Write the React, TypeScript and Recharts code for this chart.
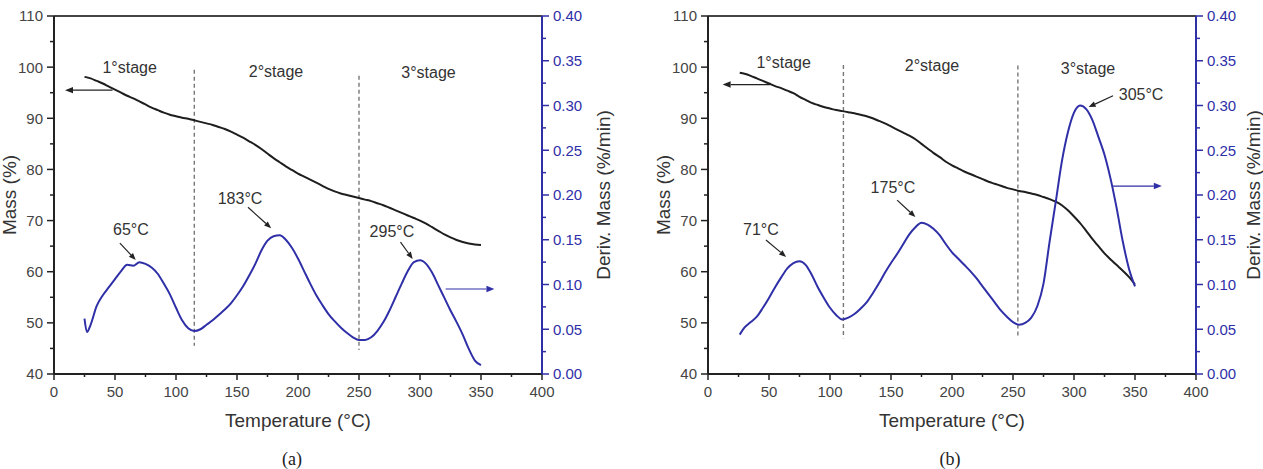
import React from 'react';
import { LineChart, Line, XAxis, YAxis, ReferenceLine, ReferenceDot } from 'recharts';

// panel (a): sampled temperatures (°C), mass (%) and derivative (%/min)
const tempA = [25, 27, 30, 35, 40, 45, 50, 55, 60, 65, 70, 75, 80, 85, 90, 95, 100, 105, 110, 115, 120, 125, 130, 135, 140, 145, 150, 155, 160, 165, 170, 175, 180, 185, 190, 195, 200, 205, 210, 215, 220, 225, 230, 235, 240, 245, 250, 255, 260, 265, 270, 275, 280, 285, 290, 295, 300, 305, 310, 315, 320, 325, 330, 335, 340, 345, 350];
const massA = [98.1, 98.0, 97.8, 97.3, 96.8, 96.2, 95.6, 95.0, 94.4, 93.9, 93.3, 92.7, 92.1, 91.6, 91.1, 90.7, 90.4, 90.1, 89.9, 89.6, 89.3, 89.0, 88.7, 88.3, 87.9, 87.4, 86.8, 86.2, 85.5, 84.8, 84.0, 83.1, 82.2, 81.4, 80.6, 79.9, 79.2, 78.6, 78.0, 77.4, 76.8, 76.2, 75.7, 75.3, 75.0, 74.7, 74.4, 74.1, 73.8, 73.4, 73.0, 72.5, 72.0, 71.5, 71.0, 70.5, 70.0, 69.4, 68.7, 68.0, 67.3, 66.7, 66.2, 65.8, 65.5, 65.3, 65.2];
const derivA = [0.062, 0.047, 0.055, 0.076, 0.088, 0.097, 0.106, 0.115, 0.122, 0.121, 0.125, 0.123, 0.119, 0.112, 0.101, 0.089, 0.074, 0.060, 0.051, 0.048, 0.050, 0.055, 0.060, 0.066, 0.072, 0.079, 0.088, 0.098, 0.110, 0.123, 0.138, 0.149, 0.154, 0.155, 0.150, 0.141, 0.129, 0.115, 0.101, 0.088, 0.077, 0.067, 0.059, 0.052, 0.046, 0.041, 0.038, 0.038, 0.041, 0.048, 0.058, 0.071, 0.086, 0.101, 0.115, 0.125, 0.127, 0.123, 0.113, 0.099, 0.085, 0.071, 0.058, 0.044, 0.028, 0.015, 0.010];

// panel (b)
const tempB = [26, 30, 35, 40, 45, 50, 55, 60, 65, 70, 75, 80, 85, 90, 95, 100, 105, 110, 115, 120, 125, 130, 135, 140, 145, 150, 155, 160, 165, 170, 175, 180, 185, 190, 195, 200, 205, 210, 215, 220, 225, 230, 235, 240, 245, 250, 255, 260, 265, 270, 275, 280, 285, 290, 295, 300, 305, 310, 315, 320, 325, 330, 335, 340, 345, 350];
const massB = [98.9, 98.7, 98.3, 97.8, 97.3, 96.8, 96.3, 95.9, 95.4, 94.9, 94.2, 93.6, 93.0, 92.6, 92.2, 91.9, 91.6, 91.4, 91.2, 91.0, 90.7, 90.4, 90.0, 89.5, 89.0, 88.4, 87.8, 87.2, 86.6, 85.9, 85.0, 84.1, 83.2, 82.4, 81.5, 80.8, 80.2, 79.6, 79.1, 78.6, 78.1, 77.6, 77.2, 76.8, 76.4, 76.1, 75.8, 75.6, 75.3, 75.0, 74.6, 74.2, 73.7, 73.0, 72.0, 70.8, 69.5, 68.0, 66.4, 65.0, 63.6, 62.4, 61.3, 60.2, 59.0, 57.5];
const derivB = [0.044, 0.052, 0.058, 0.064, 0.074, 0.085, 0.097, 0.108, 0.118, 0.124, 0.126, 0.122, 0.111, 0.097, 0.085, 0.074, 0.066, 0.061, 0.063, 0.067, 0.073, 0.080, 0.090, 0.101, 0.113, 0.124, 0.134, 0.145, 0.156, 0.164, 0.169, 0.167, 0.162, 0.155, 0.145, 0.136, 0.129, 0.122, 0.115, 0.107, 0.098, 0.089, 0.080, 0.071, 0.064, 0.058, 0.055, 0.057, 0.063, 0.076, 0.101, 0.148, 0.192, 0.237, 0.270, 0.292, 0.300, 0.296, 0.284, 0.265, 0.245, 0.218, 0.185, 0.148, 0.118, 0.098];

const tempTicks = [0, 25, 50, 75, 100, 125, 150, 175, 200, 225, 250, 275, 300, 325, 350, 375, 400];
const massTicks = [40, 45, 50, 55, 60, 65, 70, 75, 80, 85, 90, 95, 100, 105, 110];
const derivTicks = [0, 0.025, 0.05, 0.075, 0.1, 0.125, 0.15, 0.175, 0.2, 0.225, 0.25, 0.275, 0.3, 0.325, 0.35, 0.375, 0.4];

const stageNames = ['1°stage', '2°stage', '3°stage'];
const peaksA = ['65°C', '183°C', '295°C'];
const peaksB = ['71°C', '175°C', '305°C'];

const BLUE = '#2f2fa8';
const DARK = '#333';

const toRows = (t: number[], m: number[], d: number[]) =>
  t.map((v, i) => ({ t: v, mass: m[i], deriv: d[i] }));

const LeftTick = ({ x, y, payload }: any) => {
  const major = payload.value % 10 === 0;
  return (
    <g>
      <line x1={x} x2={x - (major ? 7 : 4)} y1={y} y2={y} stroke="#222" strokeWidth={1.5} />
      {major && (
        <text x={x - 11} y={y} dy="0.36em" textAnchor="end" fontSize={15} fill="#444">
          {payload.value}
        </text>
      )}
    </g>
  );
};

const RightTick = ({ x, y, payload }: any) => {
  const major = Math.round(payload.value * 1000) % 50 === 0;
  return (
    <g>
      <line x1={x} x2={x + (major ? 7 : 4)} y1={y} y2={y} stroke={BLUE} strokeWidth={1.5} />
      {major && (
        <text x={x + 11} y={y} dy="0.36em" textAnchor="start" fontSize={15} fill={BLUE}>
          {payload.value.toFixed(2)}
        </text>
      )}
    </g>
  );
};

const BottomTick = ({ x, y, payload }: any) => {
  const major = payload.value % 50 === 0;
  return (
    <g>
      <line x1={x} x2={x} y1={y} y2={y + (major ? 6 : 3)} stroke="#222" strokeWidth={1.5} />
      {major && (
        <text x={x} y={y + 23} textAnchor="middle" fontSize={15} fill="#444">
          {payload.value}
        </text>
      )}
    </g>
  );
};

const arrowShape = (color: string, head = 8) => (p: any) => {
  const { x1, y1, x2, y2 } = p;
  const a = Math.atan2(y2 - y1, x2 - x1);
  const bx = x2 - head * Math.cos(a);
  const by = y2 - head * Math.sin(a);
  const w = head * 0.4;
  const pts = `${x2},${y2} ${bx - w * Math.sin(a)},${by + w * Math.cos(a)} ${bx + w * Math.sin(a)},${by - w * Math.cos(a)}`;
  return (
    <g>
      <line x1={x1} y1={y1} x2={bx} y2={by} stroke={color} strokeWidth={1.2} />
      <polygon points={pts} fill={color} />
    </g>
  );
};

const textShape = (text: string) => (p: any) => (
  <text x={p.cx} y={p.cy} textAnchor="middle" dominantBaseline="central" fontSize={16} fill={DARK}>
    {text}
  </text>
);

type Note = { t: number; m: number; from: [number, number]; to: [number, number] };

interface PanelProps {
  rows: { t: number; mass: number; deriv: number }[];
  left: number;
  width: number;
  leftW: number;
  rightW: number;
  massTitleOffset: number;
  derivTitleOffset: number;
  stagePos: [number, number][];
  dashes: [number, number, number][];
  peaks: string[];
  notes: Note[];
  massArrow: [number, number, number];
  derivArrow: [number, number, number];
  caption: string;
  captionX: number;
}

function Panel(p: PanelProps) {
  return (
    <div style={{ position: 'absolute', left: p.left, top: 0 }}>
      <LineChart width={p.width} height={469} data={p.rows} margin={{ top: 16, right: 0, bottom: 0, left: 0 }}>
        <XAxis
          type="number"
          dataKey="t"
          domain={[0, 400]}
          ticks={tempTicks}
          interval={0}
          height={95}
          tickSize={0}
          tickMargin={0}
          tickLine={false}
          tick={<BottomTick />}
          axisLine={{ stroke: '#222', strokeWidth: 2 }}
          label={{ value: 'Temperature (°C)', position: 'insideTop', offset: 40, fontSize: 19, fill: DARK }}
        />
        <YAxis
          yAxisId="mass"
          domain={[40, 110]}
          ticks={massTicks}
          interval={0}
          width={p.leftW}
          tickSize={0}
          tickMargin={0}
          tickLine={false}
          tick={<LeftTick />}
          axisLine={{ stroke: '#222', strokeWidth: 2 }}
          label={{ value: 'Mass (%)', angle: -90, position: 'insideLeft', offset: p.massTitleOffset, fontSize: 19, fill: DARK, style: { textAnchor: 'middle' } }}
        />
        <YAxis
          yAxisId="deriv"
          orientation="right"
          domain={[0, 0.4]}
          ticks={derivTicks}
          interval={0}
          width={p.rightW}
          tickSize={0}
          tickMargin={0}
          tickLine={false}
          tick={<RightTick />}
          axisLine={{ stroke: BLUE, strokeWidth: 2 }}
          label={{ value: 'Deriv. Mass (%/min)', angle: -90, position: 'insideRight', offset: p.derivTitleOffset, fontSize: 19, fill: DARK, style: { textAnchor: 'middle' } }}
        />
        <ReferenceLine yAxisId="mass" y={110} stroke="#444" strokeWidth={2} />
        {p.dashes.map(([t, top, bottom]) => (
          <ReferenceLine
            key={t}
            yAxisId="mass"
            segment={[{ x: t, y: top }, { x: t, y: bottom }]}
            stroke="#777"
            strokeWidth={1.4}
            strokeDasharray="4 3"
          />
        ))}
        <Line yAxisId="mass" dataKey="mass" type="monotone" stroke="#1e1e1e" strokeWidth={2} dot={false} isAnimationActive={false} />
        <Line yAxisId="deriv" dataKey="deriv" type="monotone" stroke={BLUE} strokeWidth={2} dot={false} isAnimationActive={false} />
        {stageNames.map((s, i) => (
          <ReferenceDot key={s} yAxisId="mass" x={p.stagePos[i][0]} y={p.stagePos[i][1]} r={0} shape={textShape(s)} />
        ))}
        {p.notes.map((n, i) => (
          <ReferenceDot key={'l' + i} yAxisId="mass" x={n.t} y={n.m} r={0} shape={textShape(p.peaks[i])} />
        ))}
        {p.notes.map((n, i) => (
          <ReferenceLine
            key={'a' + i}
            yAxisId="mass"
            segment={[{ x: n.from[0], y: n.from[1] }, { x: n.to[0], y: n.to[1] }]}
            shape={arrowShape('#222', 7)}
          />
        ))}
        <ReferenceLine
          yAxisId="mass"
          segment={[{ x: p.massArrow[0], y: p.massArrow[2] }, { x: p.massArrow[1], y: p.massArrow[2] }]}
          shape={arrowShape('#222', 8)}
        />
        <ReferenceLine
          yAxisId="deriv"
          segment={[{ x: p.derivArrow[0], y: p.derivArrow[2] }, { x: p.derivArrow[1], y: p.derivArrow[2] }]}
          shape={arrowShape(BLUE, 8)}
        />
      </LineChart>
      <div
        style={{
          position: 'absolute',
          left: p.captionX - 30,
          top: 448,
          width: 60,
          textAlign: 'center',
          fontFamily: "'Liberation Serif', 'Times New Roman', serif",
          fontSize: 18,
          lineHeight: '22px',
          color: '#222',
        }}
      >
        {p.caption}
      </div>
    </div>
  );
}

export default function App() {
  return (
    <div
      style={{
        position: 'absolute',
        left: 0,
        top: 0,
        width: 1263,
        height: 469,
        background: '#fff',
        overflow: 'hidden',
        fontFamily: "'Liberation Sans', Arial, sans-serif",
      }}
    >
      <Panel
        rows={toRows(tempA, massA, derivA)}
        left={0}
        width={640}
        leftW={54}
        rightW={98}
        massTitleOffset={9}
        derivTitleOffset={37}
        stagePos={[[62, 100], [182, 99.2], [307, 99]]}
        dashes={[[115, 99.5, 45.5], [250, 98.3, 44.7]]}
        peaks={peaksA}
        notes={[
          { t: 63, m: 68.2, from: [54, 65.6], to: [67, 62.3] },
          { t: 152.5, m: 74.4, from: [159, 72.6], to: [178, 68.5] },
          { t: 277, m: 67.8, from: [284, 65.8], to: [294, 62.5] },
        ]}
        massArrow={[48, 9, 95.5]}
        derivArrow={[321, 361, 0.095]}
        caption="(a)"
        captionX={292}
      />
      <Panel
        rows={toRows(tempB, massB, derivB)}
        left={640}
        width={623}
        leftW={68}
        rightW={67}
        massTitleOffset={23}
        derivTitleOffset={10}
        stagePos={[[62, 101], [183.6, 100.4], [311.5, 99.8]]}
        dashes={[[111, 100.4, 47], [254, 100.3, 47]]}
        peaks={peaksB}
        notes={[
          { t: 43.4, m: 68.2, from: [47.5, 66.2], to: [64, 62.9] },
          { t: 151.6, m: 76.4, from: [155, 74], to: [170, 70.7] },
          { t: 355, m: 94.6, from: [332, 94.4], to: [312, 92.2] },
        ]}
        massArrow={[51, 12, 96.6]}
        derivArrow={[332, 372, 0.21]}
        caption="(b)"
        captionX={310}
      />
    </div>
  );
}
